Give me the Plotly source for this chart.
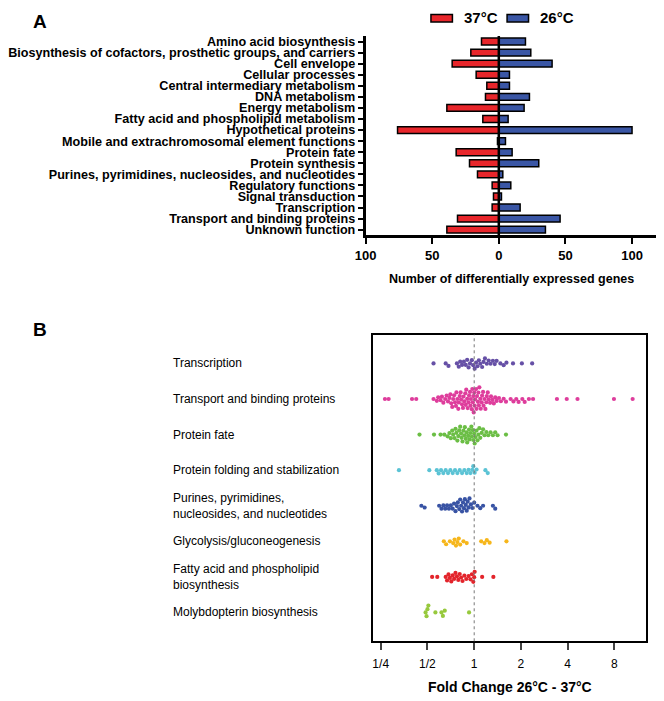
import math
import plotly.graph_objects as go

# ── Panel A: number of differentially expressed genes per role category ─────
ROLES = [
    "Amino acid biosynthesis",
    "Biosynthesis of cofactors, prosthetic groups, and carriers",
    "Cell envelope",
    "Cellular processes",
    "Central intermediary metabolism",
    "DNA metabolism",
    "Energy metabolism",
    "Fatty acid and phospholipid metabolism",
    "Hypothetical proteins",
    "Mobile and extrachromosomal element functions",
    "Protein fate",
    "Protein synthesis",
    "Purines, pyrimidines, nucleosides, and nucleotides",
    "Regulatory functions",
    "Signal transduction",
    "Transcription",
    "Transport and binding proteins",
    "Unknown function",
]
GENES_37 = [13, 21, 35, 17, 9, 10, 39, 12, 76, 1, 32, 22, 16, 5, 4, 5, 31, 39]
GENES_26 = [20, 24, 40, 8, 8, 23, 19, 7, 100, 5, 10, 30, 3, 9, 2, 16, 46, 35]
A_TICKS = [-100, -50, 0, 50, 100]
A_TICKTEXT = ["100", "50", "0", "50", "100"]

# ── Panel B: log2 fold change (26°C vs 37°C) of genes per category ──────────
B_CATS = [
    "Transcription",
    "Transport and binding proteins",
    "Protein fate",
    "Protein folding and stabilization",
    "Purines, pyrimidines,<br>nucleosides, and nucleotides",
    "Glycolysis/gluconeogenesis",
    "Fatty acid and phospholipid<br>biosynthesis",
    "Molybdopterin biosynthesis",
]
B_COLORS = ["#6650A6", "#DE3D9C", "#6BBE45", "#5BC3D5",
            "#3853A4", "#F6B61B", "#E3242B", "#97C93D"]

fc_transcription = [
    -0.87, -0.61, -0.55, -0.37, -0.33, -0.30, -0.26, -0.22, -0.18, -0.15,
    -0.12, -0.09, -0.05, -0.02, 0.01, 0.04, 0.07, 0.10, 0.13, 0.17, 0.20,
    0.23, 0.27, 0.31, 0.35, 0.40, 0.44, 0.48, 0.56, 0.63, 0.69, 0.83, 1.02, 1.24,
]
fc_transport = [
    -1.91, -1.83, -1.33, -1.24, -0.87, -0.80,
    -0.77, -0.72, -0.69, -0.66, -0.62, -0.59, -0.56, -0.53, -0.51,
    -0.49, -0.47, -0.45, -0.43, -0.41, -0.39, -0.38, -0.36, -0.34, -0.33, -0.31,
    -0.29, -0.28, -0.26, -0.24, -0.23, -0.21, -0.19, -0.18, -0.17, -0.15, -0.14,
    -0.12, -0.11, -0.09, -0.08, -0.07, -0.05, -0.04, -0.03, -0.02, -0.01,
    0.00, 0.01, 0.02, 0.04, 0.05, 0.06, 0.08, 0.09, 0.10, 0.11, 0.13, 0.14,
    0.16, 0.17, 0.19, 0.20, 0.22, 0.24, 0.26, 0.27, 0.29, 0.31, 0.34, 0.36,
    0.39, 0.42, 0.45, 0.48, 0.53, 0.57, 0.63, 0.68,
    0.78, 0.84, 0.90, 0.95, 1.03, 1.08, 1.17, 1.26,
    1.77, 1.98, 2.21, 2.99, 3.39,
]
fc_protein_fate = [
    -1.17, -0.86, -0.72, -0.64, -0.57, -0.53, -0.50, -0.47, -0.45, -0.42,
    -0.40, -0.38, -0.36, -0.34, -0.32, -0.30, -0.28, -0.27, -0.25, -0.23,
    -0.21, -0.20, -0.18, -0.16, -0.15, -0.13, -0.11, -0.10, -0.08, -0.06,
    -0.05, -0.03, -0.02, 0.00, 0.01, 0.03, 0.05, 0.07, 0.09, 0.11, 0.13,
    0.16, 0.19, 0.22, 0.26, 0.30, 0.35, 0.40, 0.45, 0.50, 0.68,
]
fc_folding = [
    -1.61, -0.96, -0.80, -0.76, -0.71, -0.66, -0.61, -0.56, -0.51, -0.46,
    -0.41, -0.36, -0.31, -0.26, -0.21, -0.16, -0.12, -0.08, -0.04, -0.02,
    0.01, 0.05, 0.24, 0.29,
]
fc_purines = [
    -1.13, -1.06, -0.75, -0.70, -0.66, -0.62, -0.58, -0.54, -0.50, -0.46,
    -0.43, -0.40, -0.37, -0.35, -0.32, -0.30, -0.28, -0.26, -0.24, -0.22,
    -0.20, -0.18, -0.16, -0.14, -0.12, -0.10, -0.07, -0.04, 0.00, 0.07,
    0.13, 0.19, 0.40, 0.45,
]
fc_glycolysis = [
    -0.65, -0.60, -0.52, -0.45, -0.42, -0.39, -0.36, -0.33, -0.30, -0.23,
    -0.16, 0.15, 0.22, 0.27, 0.33, 0.69,
]
fc_fatty_acid = [
    -0.90, -0.79, -0.61, -0.58, -0.55, -0.52, -0.49, -0.46, -0.43, -0.40,
    -0.37, -0.34, -0.31, -0.28, -0.25, -0.21, -0.17, -0.12, -0.08, -0.05,
    -0.02, 0.00, 0.01, 0.17, 0.41,
]
fc_molybdopterin = [-1.04, -1.02, -1.00, -0.98, -0.83, -0.70, -0.67, -0.63, -0.11]

B_VALUES = [fc_transcription, fc_transport, fc_protein_fate, fc_folding,
            fc_purines, fc_glycolysis, fc_fatty_acid, fc_molybdopterin]
B_TICKS = [-2, -1, 0, 1, 2, 3]
B_TICKTEXT = ["1/4", "1/2", "1", "2", "4", "8"]

W, H = 664, 701
OX, OY = 8, 8          # page body margin: the figure starts 8px in
FONT = "Arial, Liberation Sans, sans-serif"
PX_PER_LOG2 = 47.9     # horizontal px per doubling in panel B
PX_PER_ROW = 35.7      # vertical px per category row in panel B
DOT = 3.8


def swarm_offsets(values, d=DOT):
    """Simple beeswarm: y offsets (px) so dots of diameter d don't overlap."""
    order = sorted(range(len(values)), key=lambda i: values[i])
    placed = []
    offs = [0.0] * len(values)
    for i in order:
        x = values[i] * PX_PER_LOG2
        near = [(qx, qy) for qx, qy in placed if abs(qx - x) < d]
        cands = [0.0]
        for qx, qy in near:
            dy = math.sqrt(max(d * d - (x - qx) ** 2, 0))
            cands += [qy + dy, qy - dy]
        cands.sort(key=abs)
        for c in cands:
            if all((x - qx) ** 2 + (c - qy) ** 2 >= d * d - 1e-6 for qx, qy in near):
                offs[i] = c
                break
        placed.append((x, offs[i]))
    return offs


def px(xp):
    return (xp - OX) / W


def py(yp):
    return 1 - (yp - OY) / H


fig = go.Figure()

# Panel A bars
fig.add_trace(go.Bar(
    y=ROLES, x=[-v for v in GENES_37], orientation="h", name="37°C",
    marker=dict(color="#E8262B", line=dict(color="black", width=1.5)),
    width=0.62, xaxis="x", yaxis="y", showlegend=False,
))
fig.add_trace(go.Bar(
    y=ROLES, x=GENES_26, orientation="h", name="26°C",
    marker=dict(color="#3A56A5", line=dict(color="black", width=1.5)),
    width=0.62, xaxis="x", yaxis="y", showlegend=False,
))

# Panel B swarms
for k, (vals, color) in enumerate(zip(B_VALUES, B_COLORS)):
    offs = swarm_offsets(vals)
    fig.add_trace(go.Scatter(
        x=vals, y=[k + o / PX_PER_ROW for o in offs], mode="markers",
        marker=dict(color=color, size=DOT + 0.4, line=dict(width=0)),
        xaxis="x2", yaxis="y2", showlegend=False,
    ))

axis_a = dict(showgrid=False, zeroline=False, showline=True, linecolor="black",
              linewidth=2.5, ticks="outside", tickwidth=2, tickcolor="black")

fig.update_layout(
    width=W, height=H, autosize=False,
    margin=dict(l=0, r=0, t=0, b=0),
    paper_bgcolor="white", plot_bgcolor="white",
    barmode="overlay",
    font=dict(family=FONT, color="black"),
    xaxis=dict(**axis_a, domain=[px(358), px(660)], range=[-100, 121.2],
               tickvals=A_TICKS, ticktext=A_TICKTEXT, ticklen=6,
               tickfont=dict(size=13, family=FONT, weight="bold"), anchor="y"),
    yaxis=dict(**axis_a, domain=[py(235.2), py(35.1)], ticklen=5,
               type="category", categoryarray=ROLES, range=[17.5, -0.5],
               tickmode="array", tickvals=ROLES, ticktext=ROLES,
               tickfont=dict(size=12.6, family=FONT, weight="bold"), anchor="x"),
    xaxis2=dict(domain=[px(366), px(645)], range=[-2.157, 3.668],
                showgrid=False, zeroline=False, showline=True, mirror=True,
                linecolor="black", linewidth=1.5, ticks="outside", ticklen=7,
                tickwidth=1.5, tickvals=B_TICKS, ticktext=B_TICKTEXT,
                ticklabelstandoff=4,
                tickfont=dict(size=12, family=FONT), anchor="y2"),
    yaxis2=dict(domain=[py(643), py(335)], range=[7.81, -0.81],
                showgrid=False, zeroline=False, showline=True, mirror=True,
                linecolor="black", linewidth=1.5, showticklabels=False,
                ticks="", anchor="x2"),
)

shapes = [
    # zero line of panel A
    dict(type="line", xref="x", yref="y domain", x0=0, x1=0, y0=0, y1=1,
         line=dict(color="black", width=2.5)),
    # dotted reference line at fold change 1
    dict(type="line", xref="x2", yref="y2 domain", x0=0, x1=0, y0=0, y1=1,
         line=dict(color="#777777", width=1, dash="dot")),
    # legend swatches
    dict(type="rect", xref="paper", yref="paper", x0=px(425), x1=px(447),
         y0=py(21), y1=py(13.5), fillcolor="#E8262B",
         line=dict(color="black", width=1.5)),
    dict(type="rect", xref="paper", yref="paper", x0=px(503), x1=px(525),
         y0=py(21), y1=py(13.5), fillcolor="#3A56A5",
         line=dict(color="black", width=1.5)),
]

annotations = [
    dict(text="<b>A</b>", x=px(15), y=py(8), yanchor="top",
         font=dict(size=19)),
    dict(text="<b>B</b>", x=px(15), y=py(330),
         font=dict(size=19)),
    dict(text="<b>37°C</b>", x=px(457), y=py(17),
         font=dict(size=15)),
    dict(text="<b>26°C</b>", x=px(535), y=py(17),
         font=dict(size=15)),
    dict(text="<b>Number of differentially expressed genes</b>", x=px(508),
         y=py(279), xanchor="center", font=dict(size=12.5)),
    dict(text="<b>Fold Change 26°C - 37°C</b>", x=px(505.5), y=py(689),
         xanchor="center", font=dict(size=14)),
]
for k, cat in enumerate(B_CATS):
    annotations.append(dict(text=cat, x=px(159), xref="paper", yref="y2", y=k,
                            align="left", font=dict(size=12)))

for a in annotations:
    a.setdefault("xref", "paper")
    a.setdefault("yref", "paper")
    a.setdefault("xanchor", "left")
    a.setdefault("yanchor", "middle")
    a["showarrow"] = False

fig.update_layout(shapes=shapes, annotations=annotations)

fig.write_html("out.html")
